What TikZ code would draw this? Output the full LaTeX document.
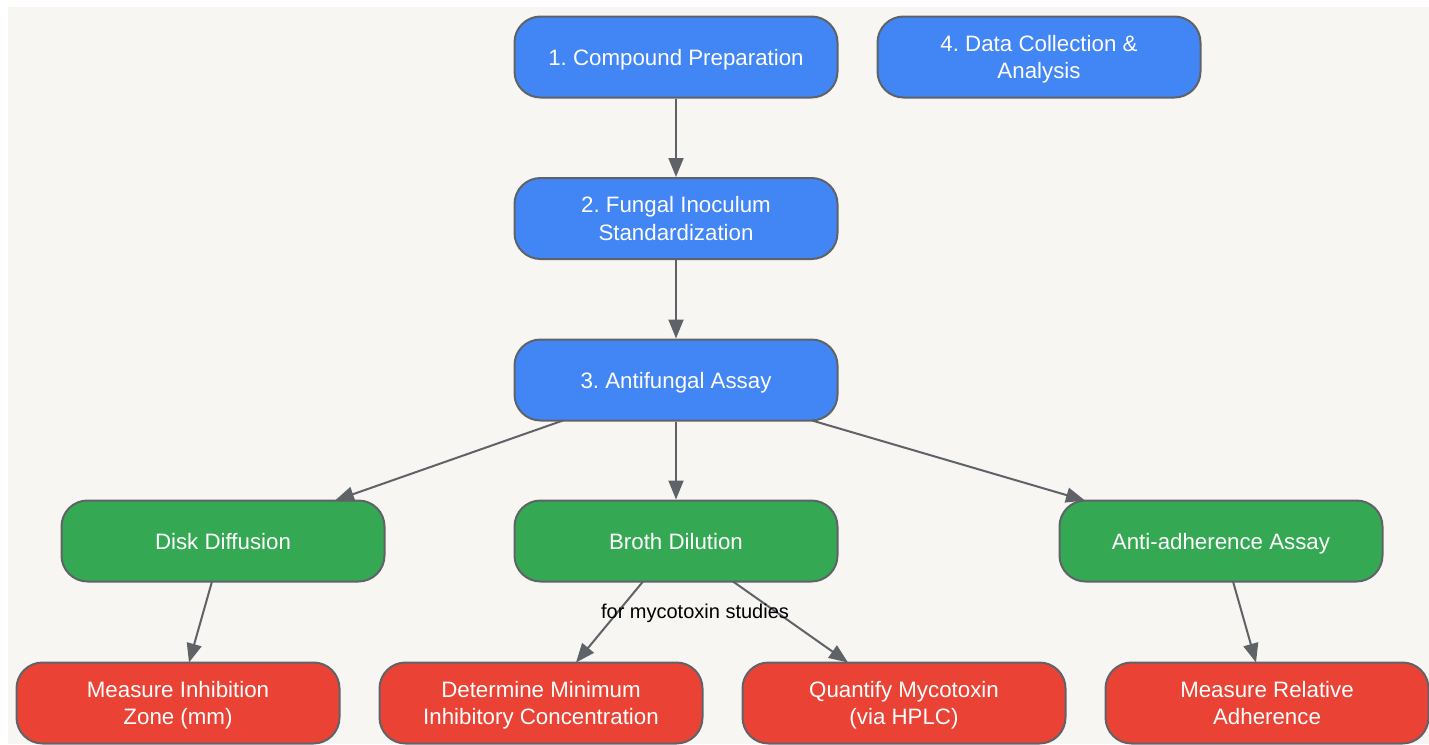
\documentclass[tikz,border=0pt]{standalone}
\usepackage{fontspec}
\setmainfont{Liberation Sans}
\usetikzlibrary{arrows.meta}
\definecolor{bgc}{HTML}{F7F6F3}
\definecolor{bluec}{HTML}{4285F4}
\definecolor{greenc}{HTML}{34A853}
\definecolor{redc}{HTML}{EA4335}
\definecolor{edgec}{HTML}{5F6368}
\newcommand{\tsh}{22pt}
\newcommand{\botstrut}{\rule[-6pt]{0pt}{6pt}}
\frenchspacing
\tikzset{
  toph/.store in=\tsh,
  box/.style={draw=edgec, line width=2pt, rounded corners=26pt, minimum width=323pt, minimum height=81pt, text=white, align=center, font=\fontsize{22.3}{27.3}\selectfont, inner sep=0pt, toph=22pt,
    execute at begin node={\rule{0pt}{\tsh}}, execute at end node={\botstrut}},
  twoline/.style={toph=49.3pt},
  bluebox/.style={box, fill=bluec},
  greenbox/.style={box, fill=greenc},
  redbox/.style={box, fill=redc},
  conn/.style={draw=edgec, line width=2pt, -{Triangle[length=19pt,width=15pt]}},
  lbl/.style={font=\fontsize{20}{24}\selectfont, text=black, inner sep=0pt}
}
\begin{document}
\begin{tikzpicture}[x=1pt,y=-1pt]
\useasboundingbox (0,0) rectangle (1429,744);
\fill[white] (0,0) rectangle (1429,744);
\fill[bgc] (8,7) rectangle (1429,744);
\node[bluebox] (n1) at (676,57) {1. Compound Preparation};
\node[bluebox, twoline] (n4) at (1039,57) {4. Data Collection \&\\Analysis};
\node[bluebox, twoline] (n2) at (676,218.5) {2. Fungal Inoculum\\Standardization};
\node[bluebox] (n3) at (676,380) {3. Antifungal Assay};
\node[greenbox] (dd) at (223,541) {Disk Diffusion};
\node[greenbox] (bd) at (676,541) {Broth Dilution};
\node[greenbox] (aa) at (1221,541) {Anti-adherence Assay};
\node[redbox, twoline] (mi) at (178,703) {Measure Inhibition\\Zone (mm)};
\node[redbox, twoline] (mic) at (541,703) {Determine Minimum\\Inhibitory Concentration};
\node[redbox, twoline] (qm) at (904,703) {Quantify Mycotoxin\\(via HPLC)};
\node[redbox, twoline] (mr) at (1267,703) {Measure Relative\\Adherence};
\coordinate (n3a) at (563,420.5);
\coordinate (n3b) at (812,420.5);
\coordinate (dda) at (335,500.5);
\coordinate (aaa) at (1085,500.5);
\draw[conn] (n1) -- (n2);
\draw[conn] (n2) -- (n3);
\draw[conn] (n3a) -- (dda);
\draw[conn] (n3) -- (bd);
\draw[conn] (n3b) -- (aaa);
\coordinate (dd1) at (212,581.5);
\coordinate (mi1) at (189,662.5);
\coordinate (bd1) at (643,581.5);
\coordinate (mic1) at (576,662.5);
\coordinate (bd2) at (733,581.5);
\coordinate (qm1) at (848,662.5);
\coordinate (aa1) at (1233,581.5);
\coordinate (mr1) at (1256,662.5);
\draw[conn] (dd1) -- (mi1);
\draw[conn] (bd1) -- (mic1);
\draw[conn] (bd2) -- (qm1);
\draw[conn] (aa1) -- (mr1);
\node[lbl] (lb) at (695,613) {for mycotoxin studies};
\end{tikzpicture}
\end{document}
